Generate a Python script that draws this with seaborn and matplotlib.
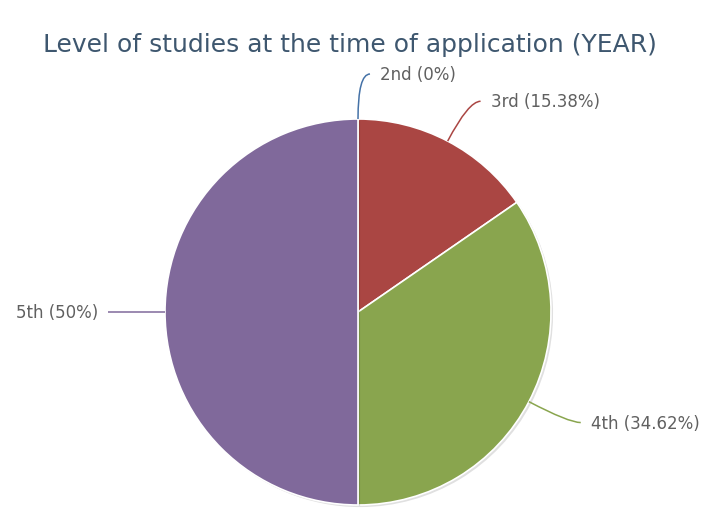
import numpy as np
import matplotlib
matplotlib.use("Agg")
import matplotlib.pyplot as plt
import matplotlib.patheffects as pe
from matplotlib.path import Path
from matplotlib.patches import PathPatch
import seaborn as sns

# data
years = ["2nd", "3rd", "4th", "5th"]
shares = [0.0, 15.38, 34.62, 50.0]
pct_labels = ["0%", "15.38%", "34.62%", "50%"]
colors = ["#4572A7", "#AA4643", "#89A54E", "#80699B"]
title = "Level of studies at the time of application (YEAR)"

sns.set_theme(style="white")
plt.rcParams["font.family"] = ["DejaVu Sans"]

W, H = 704, 510
cx, cy, R = 358, 313, 193  # pie centre / radius in pixels

fig = plt.figure(figsize=(W / 100, H / 100), dpi=100)
ax = fig.add_axes([0, 0, 1, 1])
wedges, _ = ax.pie(
    shares,
    colors=colors,
    startangle=90,
    counterclock=False,
    radius=1,
    wedgeprops=dict(
        edgecolor="white",
        linewidth=1.2,
        path_effects=[pe.SimplePatchShadow(offset=(1.5, -1.5), shadow_rgbFace="black", alpha=0.12), pe.Normal()],
    ),
)
ax.set_xlim(-cx / R, (W - cx) / R)
ax.set_ylim(-(H - cy) / R, cy / R)
ax.axis("off")

# connectors and labels
dist = 45 / R
for w, name, pct, col in zip(wedges, years, pct_labels, colors):
    a = np.radians((w.theta1 + w.theta2) / 2)
    c, s = np.cos(a), np.sin(a)
    sign = 1 if c > -1e-6 else -1
    p0 = (c, s)
    elbow = ((1 + dist) * c, (1 + dist) * s)
    end = (elbow[0] + sign * 12 / R, elbow[1])
    path = Path([p0, elbow, end], [Path.MOVETO, Path.CURVE3, Path.CURVE3])
    ax.add_patch(PathPatch(path, facecolor="none", edgecolor=col, lw=1.1, clip_on=False))
    ax.text(end[0] + sign * 10 / R, end[1], f"{name} ({pct})",
            ha="left" if sign > 0 else "right", va="center",
            fontsize=12, color="#606060", clip_on=False)

fig.text(0.497, 1 - 45 / H, title, ha="center", va="center", fontsize=18, color="#3E576F")

fig.savefig("out.png", dpi=100)
